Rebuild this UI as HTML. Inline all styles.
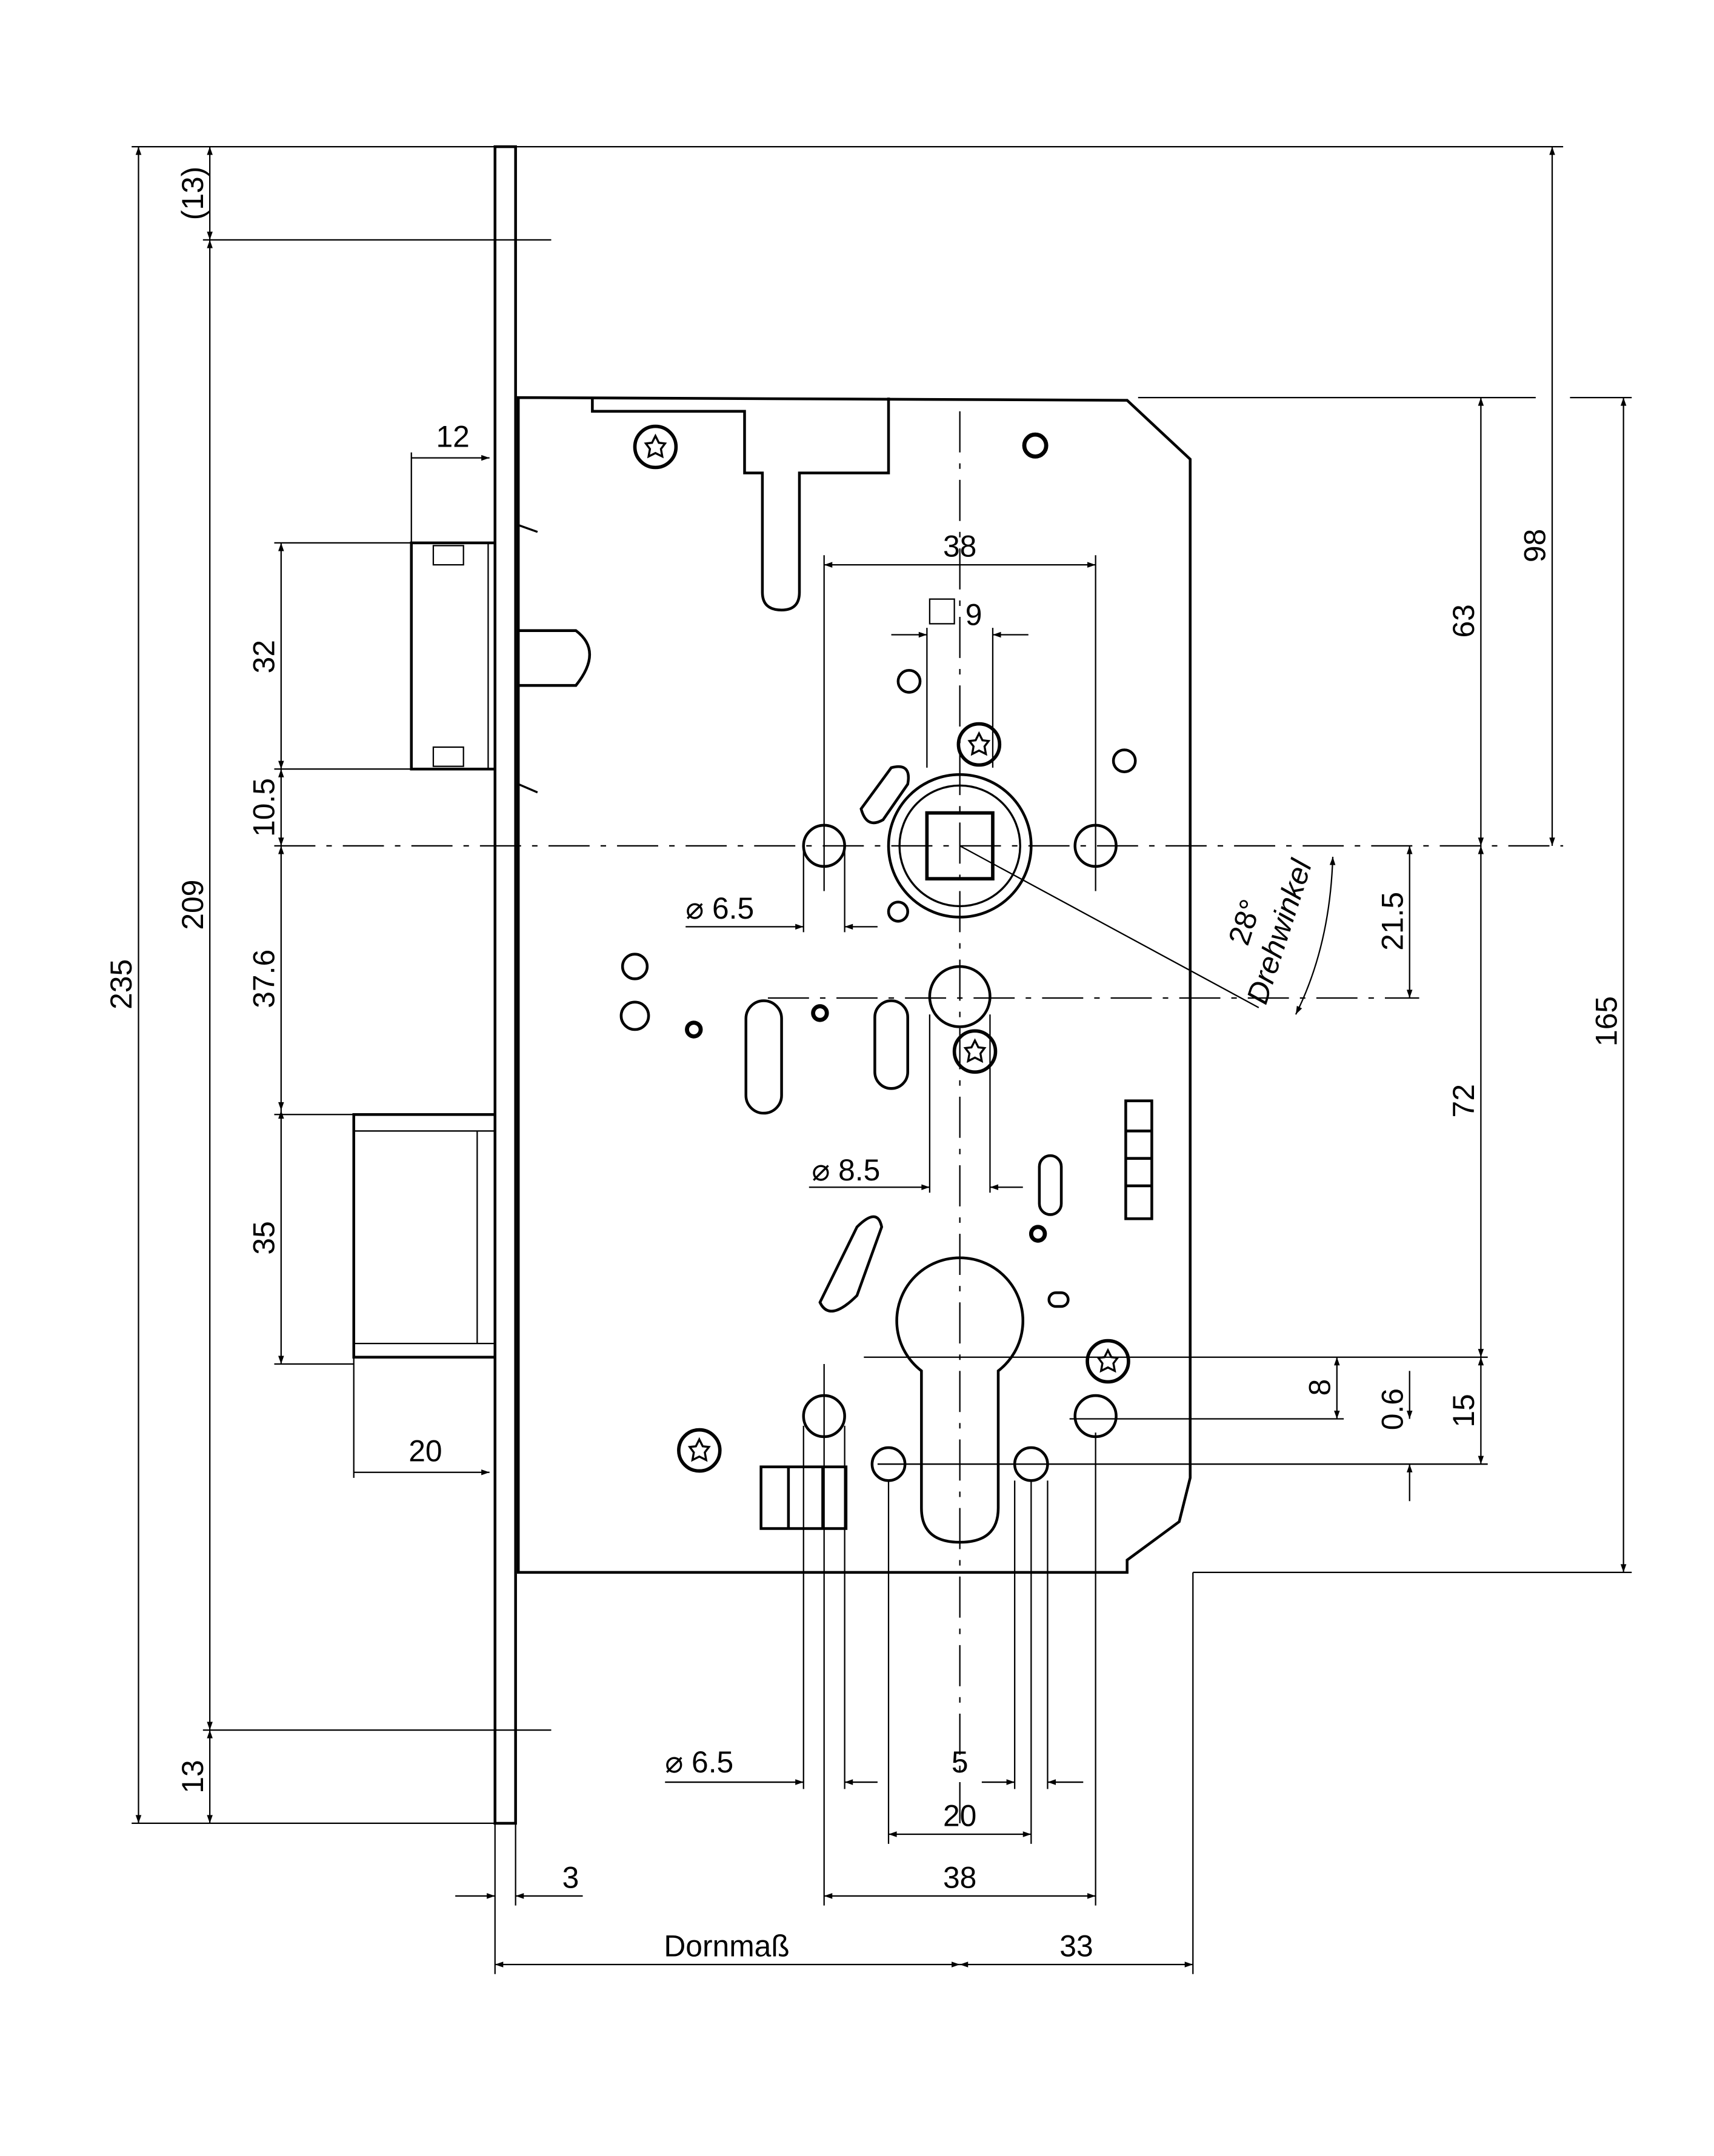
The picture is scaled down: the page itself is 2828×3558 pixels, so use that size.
<!DOCTYPE html>
<html><head><meta charset="utf-8"><style>
html,body{margin:0;padding:0;background:#fff}
svg{display:block}
text{font-family:"Liberation Sans",sans-serif;font-size:22px;fill:#000}
</style></head><body>
<svg width="2828" height="3558" viewBox="0 0 1250 1572.7" xmlns="http://www.w3.org/2000/svg">
<defs>
<marker id="a" viewBox="0 0 10 10" refX="10" refY="5" markerWidth="10" markerHeight="6" orient="auto-start-reverse" markerUnits="userSpaceOnUse"><path d="M0,1.5 L10,5 L0,8.5z" fill="#000"/></marker>
<g id="torx"><circle r="15" fill="none" stroke="#000" stroke-width="2.5"/><path d="M0,-8 L2.5,-3 L7,-2.5 L4,1.5 L5,7 L0,4.5 L-5,7 L-4,1.5 L-7,-2.5 L-2.5,-3z" fill="none" stroke="#000" stroke-width="1.5"/></g>
</defs>
<g fill="none" stroke="#000" stroke-width="1">
<!-- faceplate -->
<rect x="361" y="107" width="15" height="1223" stroke-width="2"/>
<!-- extension lines -->
<line x1="96" y1="107" x2="1140" y2="107"/>
<line x1="96" y1="1330" x2="361" y2="1330"/>
<line x1="148" y1="175" x2="402" y2="175"/>
<line x1="148" y1="1262" x2="402" y2="1262"/>
<line x1="200" y1="396" x2="300" y2="396"/>
<line x1="200" y1="561" x2="361" y2="561"/>
<line x1="200" y1="813" x2="258" y2="813"/>
<line x1="200" y1="995" x2="258" y2="995"/>
<line x1="200" y1="617" x2="1140" y2="617" stroke-dasharray="30,8,4,8"/>
<line x1="700" y1="300" x2="700" y2="1330" stroke-dasharray="30,8,4,8"/>
<line x1="560" y1="728" x2="1035" y2="728" stroke-dasharray="30,8,4,8"/>
<line x1="830" y1="290" x2="1120" y2="290"/>
<line x1="1145" y1="290" x2="1190" y2="290"/>
<line x1="870" y1="1147" x2="1190" y2="1147"/>
<line x1="630" y1="990" x2="1085" y2="990"/>
<line x1="780" y1="1035" x2="980" y2="1035"/>
<line x1="640" y1="1068" x2="1085" y2="1068"/>
<!-- left dims -->
<line x1="101" y1="107" x2="101" y2="1330" marker-start="url(#a)" marker-end="url(#a)"/>
<line x1="153" y1="107" x2="153" y2="175" marker-start="url(#a)" marker-end="url(#a)"/>
<line x1="153" y1="175" x2="153" y2="1262" marker-start="url(#a)" marker-end="url(#a)"/>
<line x1="153" y1="1262" x2="153" y2="1330" marker-start="url(#a)" marker-end="url(#a)"/>
<line x1="205" y1="396" x2="205" y2="561" marker-start="url(#a)" marker-end="url(#a)"/>
<line x1="205" y1="561" x2="205" y2="617" marker-start="url(#a)" marker-end="url(#a)"/>
<line x1="205" y1="617" x2="205" y2="810" marker-start="url(#a)" marker-end="url(#a)"/>
<line x1="205" y1="810" x2="205" y2="995" marker-start="url(#a)" marker-end="url(#a)"/>
<line x1="300" y1="330" x2="300" y2="396"/>
<line x1="300" y1="334" x2="357" y2="334" marker-end="url(#a)"/>
<line x1="258" y1="990" x2="258" y2="1078"/>
<line x1="258" y1="1074" x2="357" y2="1074" marker-end="url(#a)"/>
<!-- latch -->
<rect x="300" y="396" width="61" height="165" stroke-width="2"/>
<rect x="316" y="398" width="22" height="14"/><rect x="316" y="545" width="22" height="14"/>
<line x1="356" y1="396" x2="356" y2="561"/>
<!-- bolt -->
<rect x="258" y="813" width="103" height="177" stroke-width="2"/>
<line x1="258" y1="825" x2="361" y2="825"/><line x1="258" y1="980" x2="361" y2="980"/>
<line x1="348" y1="825" x2="348" y2="980"/>
<!-- case -->
<path d="M378,290 L822,292 L868,335 L868,1078 L860,1110 L822,1138 L822,1147 L378,1147 Z" stroke-width="2"/>
<path d="M432,290 L432,300 L543,300 L543,345 L556,345 L556,432 Q556,445 570,445 Q583,445 583,432 L583,345 L648,345 L648,290" stroke-width="2"/>
<path d="M378,460 L420,460 Q440,475 420,500 L378,500" stroke-width="2"/>
<path d="M378,383 L392,388 M378,572 L392,578" stroke-width="1.5"/>
<!-- spindle -->
<circle cx="700" cy="617" r="52" stroke-width="2"/><circle cx="700" cy="617" r="44" stroke-width="1.5"/>
<rect x="676" y="593" width="48" height="48" stroke-width="2.5"/>
<line x1="700" y1="617" x2="918" y2="735"/>
<path d="M972,625 Q970,690 945,740" marker-start="url(#a)" marker-end="url(#a)"/>
<!-- holes -->
<g stroke-width="2">
<circle cx="601" cy="617" r="15"/><circle cx="799" cy="617" r="15"/>
<circle cx="663" cy="497" r="8"/><circle cx="820" cy="555" r="8"/><circle cx="655" cy="665" r="7"/>
<circle cx="463" cy="705" r="9"/><circle cx="463" cy="741" r="10"/>
<circle cx="700" cy="727" r="22"/>
<circle cx="755" cy="325" r="8" stroke-width="3"/>
<circle cx="506" cy="751" r="5" stroke-width="3"/><circle cx="598" cy="739" r="5" stroke-width="3"/>
<circle cx="757" cy="900" r="5" stroke-width="3"/>
<rect x="544" y="730" width="26" height="82" rx="13"/>
<rect x="638" y="730" width="24" height="64" rx="12"/>
<rect x="758" y="843" width="16" height="43" rx="8"/>
<rect x="765" y="943" width="14" height="10" rx="5"/>
<path d="M628,590 L650,560 Q665,556 662,572 L644,598 Q632,605 628,590Z"/>
<path d="M598,950 L625,895 Q640,880 643,895 L625,945 Q605,965 598,950Z"/>
<rect x="821" y="803" width="19" height="86"/>
<line x1="821" y1="825" x2="840" y2="825"/><line x1="821" y1="845" x2="840" y2="845"/><line x1="821" y1="865" x2="840" y2="865"/>
<circle cx="601" cy="1033" r="15"/><circle cx="799" cy="1033" r="15"/>
<circle cx="648" cy="1068" r="12"/><circle cx="752" cy="1068" r="12"/>
<path d="M672,1000 A46,46 0 1 1 728,1000 L728,1100 Q728,1125 700,1125 Q672,1125 672,1100 Z"/>
<rect x="555" y="1070" width="62" height="45"/><line x1="575" y1="1070" x2="575" y2="1115"/><line x1="600" y1="1070" x2="600" y2="1115"/>
</g>
<use href="#torx" x="478" y="326"/><use href="#torx" x="714" y="543"/><use href="#torx" x="711" y="767"/>
<use href="#torx" x="808" y="993"/><use href="#torx" x="510" y="1058"/>
<!-- top dims -->
<line x1="601" y1="405" x2="601" y2="650"/><line x1="799" y1="405" x2="799" y2="650"/>
<line x1="601" y1="412" x2="799" y2="412" marker-start="url(#a)" marker-end="url(#a)"/>
<line x1="676" y1="458" x2="676" y2="560"/><line x1="724" y1="458" x2="724" y2="560"/>
<line x1="650" y1="463" x2="676" y2="463" marker-end="url(#a)"/><line x1="750" y1="463" x2="724" y2="463" marker-end="url(#a)"/>
<rect x="678" y="437" width="18" height="18"/>
<line x1="586" y1="620" x2="586" y2="680"/><line x1="616" y1="620" x2="616" y2="680"/>
<line x1="500" y1="676" x2="586" y2="676" marker-end="url(#a)"/><line x1="640" y1="676" x2="616" y2="676" marker-end="url(#a)"/>
<line x1="678" y1="740" x2="678" y2="870"/><line x1="722" y1="740" x2="722" y2="870"/>
<line x1="590" y1="866" x2="678" y2="866" marker-end="url(#a)"/><line x1="746" y1="866" x2="722" y2="866" marker-end="url(#a)"/>
<!-- right dims -->
<line x1="1080" y1="290" x2="1080" y2="617" marker-start="url(#a)" marker-end="url(#a)"/>
<line x1="1080" y1="617" x2="1080" y2="990" marker-start="url(#a)" marker-end="url(#a)"/>
<line x1="1080" y1="990" x2="1080" y2="1068" marker-start="url(#a)" marker-end="url(#a)"/>
<line x1="1132" y1="107" x2="1132" y2="617" marker-start="url(#a)" marker-end="url(#a)"/>
<line x1="1184" y1="290" x2="1184" y2="1147" marker-start="url(#a)" marker-end="url(#a)"/>
<line x1="1028" y1="617" x2="1028" y2="728" marker-start="url(#a)" marker-end="url(#a)"/>
<line x1="975" y1="990" x2="975" y2="1035" marker-start="url(#a)" marker-end="url(#a)"/>
<line x1="1028" y1="1000" x2="1028" y2="1035" marker-end="url(#a)"/>
<line x1="1028" y1="1095" x2="1028" y2="1068" marker-end="url(#a)"/>
<!-- bottom dims -->
<line x1="601" y1="995" x2="601" y2="1390"/><line x1="799" y1="1045" x2="799" y2="1390"/>
<line x1="586" y1="1040" x2="586" y2="1305"/><line x1="616" y1="1040" x2="616" y2="1305"/>
<line x1="648" y1="1080" x2="648" y2="1345"/><line x1="752" y1="1080" x2="752" y2="1345"/>
<line x1="740" y1="1080" x2="740" y2="1305"/><line x1="764" y1="1080" x2="764" y2="1305"/>
<line x1="870" y1="1147" x2="870" y2="1440"/><line x1="361" y1="1330" x2="361" y2="1440"/><line x1="376" y1="1330" x2="376" y2="1390"/>
<line x1="485" y1="1300" x2="586" y2="1300" marker-end="url(#a)"/><line x1="640" y1="1300" x2="616" y2="1300" marker-end="url(#a)"/>
<line x1="716" y1="1300" x2="740" y2="1300" marker-end="url(#a)"/><line x1="790" y1="1300" x2="764" y2="1300" marker-end="url(#a)"/>
<line x1="648" y1="1338" x2="752" y2="1338" marker-start="url(#a)" marker-end="url(#a)"/>
<line x1="601" y1="1383" x2="799" y2="1383" marker-start="url(#a)" marker-end="url(#a)"/>
<line x1="332" y1="1383" x2="361" y2="1383" marker-end="url(#a)"/><line x1="425" y1="1383" x2="376" y2="1383" marker-end="url(#a)"/>
<line x1="361" y1="1433" x2="700" y2="1433" marker-start="url(#a)" marker-end="url(#a)"/>
<line x1="700" y1="1433" x2="870" y2="1433" marker-start="url(#a)" marker-end="url(#a)"/>
</g>
<g>
<text x="318" y="326">12</text>
<text x="298" y="1066">20</text>
<text transform="translate(96,718) rotate(-90)" text-anchor="middle">235</text>
<text transform="translate(148,141) rotate(-90)" text-anchor="middle">(13)</text>
<text transform="translate(148,660) rotate(-90)" text-anchor="middle">209</text>
<text transform="translate(148,1296) rotate(-90)" text-anchor="middle">13</text>
<text transform="translate(200,479) rotate(-90)" text-anchor="middle">32</text>
<text transform="translate(200,589) rotate(-90)" text-anchor="middle">10.5</text>
<text transform="translate(200,714) rotate(-90)" text-anchor="middle">37.6</text>
<text transform="translate(200,903) rotate(-90)" text-anchor="middle">35</text>
<text x="700" y="406" text-anchor="middle">38</text>
<text x="704" y="456">9</text>
<text x="500" y="670">⌀ 6.5</text>
<text x="592" y="861">⌀ 8.5</text>
<text transform="translate(1075,453) rotate(-90)" text-anchor="middle">63</text>
<text transform="translate(1075,803) rotate(-90)" text-anchor="middle">72</text>
<text transform="translate(1075,1029) rotate(-90)" text-anchor="middle">15</text>
<text transform="translate(1127,398) rotate(-90)" text-anchor="middle">98</text>
<text transform="translate(1179,745) rotate(-90)" text-anchor="middle">165</text>
<text transform="translate(1023,672) rotate(-90)" text-anchor="middle">21.5</text>
<text transform="translate(970,1012) rotate(-90)" text-anchor="middle">8</text>
<text transform="translate(1023,1028) rotate(-90)" text-anchor="middle">0.6</text>
<text transform="translate(915,675) rotate(-72)" text-anchor="middle">28°</text>
<text transform="translate(940,682) rotate(-72)" text-anchor="middle" font-style="italic">Drehwinkel</text>
<text x="485" y="1293">⌀ 6.5</text>
<text x="700" y="1293" text-anchor="middle">5</text>
<text x="700" y="1332" text-anchor="middle">20</text>
<text x="700" y="1377" text-anchor="middle">38</text>
<text x="410" y="1377">3</text>
<text x="530" y="1427" text-anchor="middle">Dornmaß</text>
<text x="785" y="1427" text-anchor="middle">33</text>
</g>
</svg>
</body></html>
